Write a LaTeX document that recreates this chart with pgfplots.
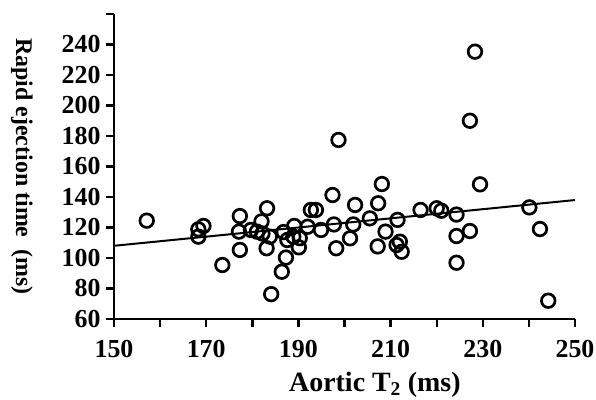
\documentclass[border=0pt]{standalone}
\usepackage{fontspec}
\setmainfont{Liberation Serif}
\usepackage{pgfplots}
\pgfplotsset{compat=1.18}

\begin{document}
\begin{tikzpicture}
  \begin{axis}[
      scale only axis,
      width=461bp, height=305bp,
      xmin=150, xmax=250, ymin=60, ymax=260,
      axis lines*=left,
      axis line style={line width=2.6bp},
      xtick={150,160,...,250},
      xticklabels={150,,170,,190,,210,,230,,250},
      ytick={60,80,...,260},
      yticklabels={60,80,100,120,140,160,180,200,220,240,},
      tick align=outside,
      major tick length=8bp,
      tick style={line width=2.4bp, black},
      /pgf/number format/assume math mode=true,
      tick label style={font=\bfseries\fontsize{26}{26}\selectfont},
      xticklabel style={yshift=-10bp},
      yticklabel style={xshift=-2bp},
      xlabel={Aortic T\textsubscript{2} (ms)},
      xlabel style={font=\bfseries\fontsize{28}{28}\selectfont,
        at={(axis description cs:0.566,-0.215)}, anchor=center},
      ylabel={Rapid ejection time\enspace(ms)},
      ylabel style={font=\bfseries\fontsize{24}{24}\selectfont,
        at={(axis description cs:-0.2,0.5)}, anchor=center, rotate=180},
      clip=false,
    ]
    % regression line
    \addplot[black, line width=2bp] coordinates {(150,108) (250,138)};
    % measurements
    \addplot[only marks, mark=o, mark size=6.8bp, line width=2.7bp, black]
      coordinates {
        (157.1,124.5) (168.3,118.8) (169.4,121) (168.3,114) (173.5,95.4)
        (177.3,127.5) (177.1,117.3) (177.3,105.3) (179.7,118.4) (181,117.3)
        (182.2,116) (182,124) (183.2,132.6) (183.1,106.4) (183.8,114)
        (184.1,76.3) (186.4,91) (187.3,100.3) (186.8,117) (187.6,111.8)
        (189.1,121) (188.9,114) (190.1,107) (190.3,113) (192,120.5)
        (192.7,131.5) (193.8,131.5) (194.9,118.4) (197.4,141.3) (197.7,122)
        (198.2,106.4) (198.7,177.4) (201.9,122) (201.2,112.9) (202.3,134.8)
        (205.5,126) (207.3,135.9) (207.2,107.6) (208.1,148.5) (208.9,117.3)
        (211.5,125) (212,110.7) (211.3,108.5) (212.4,104.1) (216.5,131.5)
        (220,132.6) (221,131) (224.3,128.5) (224.3,114.4) (227.2,117.7)
        (224.3,96.9) (227.2,190) (228.3,235.3) (229.4,148.3) (240.1,133.2)
        (242.4,119) (244.2,72)
      };
  \end{axis}
  \pgfresetboundingbox
  \path[use as bounding box]
    ([xshift=-114bp,yshift=-81bp]current axis.south west)
    rectangle ([xshift=21bp,yshift=14bp]current axis.north east);
\end{tikzpicture}
\end{document}
